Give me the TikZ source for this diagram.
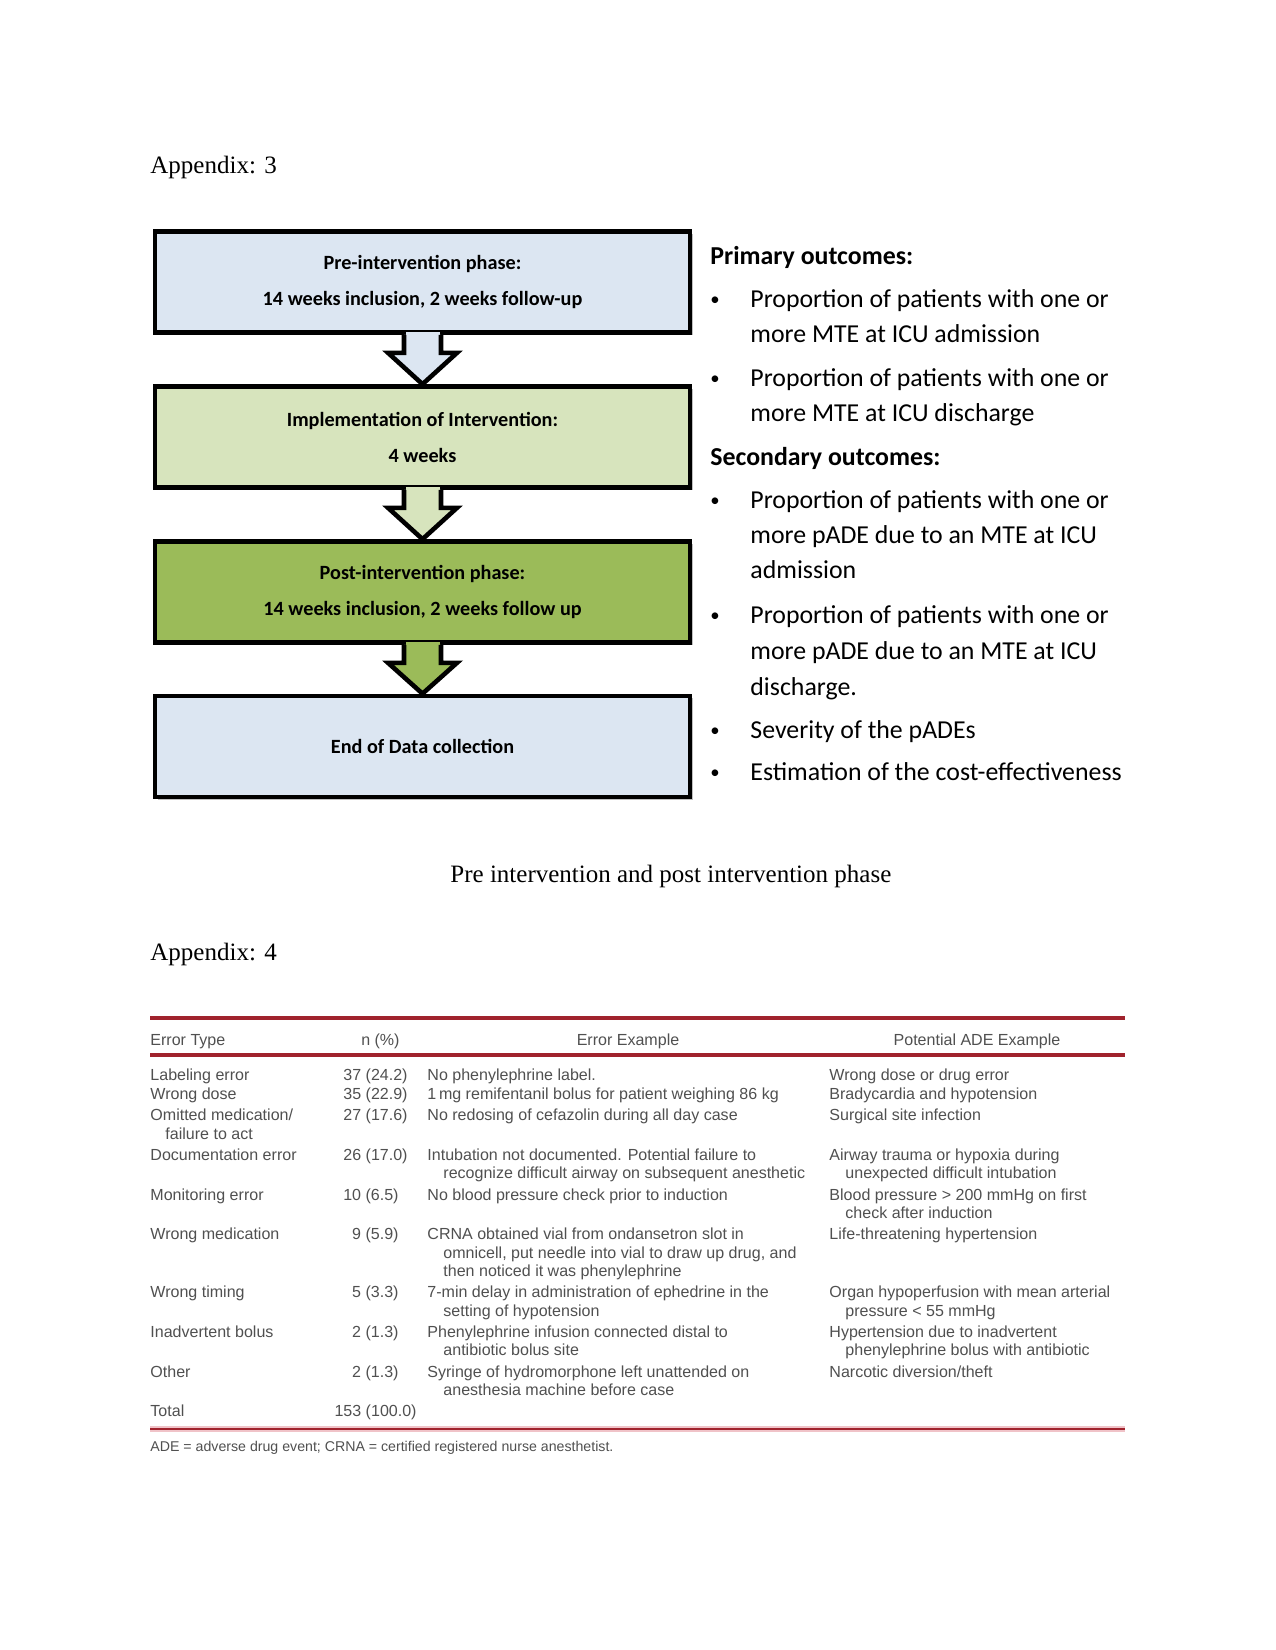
\documentclass[tikz,border=0pt]{standalone}
\usepackage{fontspec}
\setmainfont{Liberation Serif}
\newfontfamily\carlito{Carlito}
\newfontfamily\arialf{Liberation Sans}
\usetikzlibrary{calc,shadows}
\definecolor{boxblue}{RGB}{220,230,242}
\definecolor{boxlgreen}{RGB}{215,228,189}
\definecolor{boxgreen}{RGB}{155,187,89}
\definecolor{rulered}{RGB}{160,35,45}
\definecolor{rulepink}{RGB}{240,195,200}
\definecolor{tabgray}{RGB}{80,80,80}
\newcommand{\phasearrow}[3]{%
  \fill[#3] ($(#1.south)+(-17,-3)$) rectangle ($(#1.south)+(17,1)$);
  \draw[line width=2.2pt, line join=miter, fill=#3]
    ($(#1.south)+(-18.5,0)$) -- ($(#1.south)+(-18.5,18)$) -- ($(#1.south)+(-34.5,18)$)
    -- (#2.north) -- ($(#1.south)+(34.5,18)$) -- ($(#1.south)+(18.5,18)$) -- ($(#1.south)+(18.5,0)$);
}
\begin{document}
\begin{tikzpicture}[x=0.48pt,y=-0.48pt,
  phase/.style={draw=black, line width=2.2pt, minimum width=256.8pt, minimum height=48.5pt,
    align=center, inner sep=0pt, font=\carlito\bfseries\fontsize{9.7}{17.3}\selectfont,
    drop shadow={opacity=0.25, shadow xshift=1.2pt, shadow yshift=-1.2pt, fill=black}},
  outl/.style={anchor=base west, inner sep=0pt, font=\carlito\fontsize{12.4}{15}\selectfont},
  outh/.style={outl, font=\carlito\bfseries\fontsize{12.4}{15}\selectfont},
  bul/.style={anchor=base west, inner sep=0pt, font=\carlito\fontsize{9}{10}\selectfont},
  doc/.style={anchor=base west, inner sep=0pt, font=\fontsize{12}{14}\selectfont},
  tab/.style={anchor=base west, inner sep=0pt, font=\arialf\fontsize{7.7}{9}\selectfont, text=tabgray},
  tabr/.style={tab, anchor=base east},
  tabc/.style={tab, anchor=base},
  foot/.style={tab, font=\arialf\fontsize{6.8}{8}\selectfont}
]
\useasboundingbox (0,0) rectangle (1275,1650);
\fill[white] (0,0) rectangle (1275,1650);

\node[doc] (app3) at (150,174) {Appendix: 3};

% flow boxes
\node[phase, fill=boxblue] (b1) at (422.5,282) {Pre-intervention phase:\\14 weeks inclusion, 2 weeks follow-up};
\node[phase, fill=boxlgreen] (b2) at (422.5,437) {Implementation of Intervention:\\4 weeks};
\node[phase, fill=boxgreen] (b3) at (422.5,592) {Post-intervention phase:\\14 weeks inclusion, 2 weeks follow up};
\node[phase, fill=boxblue] (b4) at (422.5,746.5) {End of Data collection};

\phasearrow{b1}{b2}{boxblue}
\phasearrow{b2}{b3}{boxlgreen}
\phasearrow{b3}{b4}{boxgreen}

% outcomes
\node[outh] (hprim) at (710,265) {Primary outcomes:};
\node[bul] (u1) at (710,306) {•};
\node[outl] (t1a) at (750,308) {Proportion of patients with one or};
\node[outl] (t1b) at (750,343) {more MTE at ICU admission};
\node[bul] (u2) at (710,385) {•};
\node[outl] (t2a) at (750,387) {Proportion of patients with one or};
\node[outl] (t2b) at (750,422) {more MTE at ICU discharge};
\node[outh] (hsec) at (710,466) {Secondary outcomes:};
\node[bul] (u3) at (710,506) {•};
\node[outl] (t3a) at (750,508) {Proportion of patients with one or};
\node[outl] (t3b) at (750,543) {more pADE due to an MTE at ICU};
\node[outl] (t3c) at (750,578) {admission};
\node[bul] (u4) at (710,621) {•};
\node[outl] (t4a) at (750,623) {Proportion of patients with one or};
\node[outl] (t4b) at (750,659) {more pADE due to an MTE at ICU};
\node[outl] (t4c) at (750,695) {discharge.};
\node[bul] (u5) at (710,736) {•};
\node[outl] (t5) at (750,738) {Severity of the pADEs};
\node[bul] (u6) at (710,778) {•};
\node[outl] (t6) at (750,780) {Estimation of the cost-effectiveness};

\node[doc] (cap) at (450,882) {Pre intervention and post intervention phase};
\node[doc] (app4) at (150,960) {Appendix: 4};

% table rules
\draw[rulered, line width=1.6pt] (150,1018) -- (1125,1018);
\draw[rulered, line width=1.5pt] (150,1055) -- (1125,1055);
\draw[rulepink, line width=2.6pt] (150,1429) -- (1125,1429);
\draw[rulered, line width=0.9pt] (150,1429) -- (1125,1429);

% header
\node[tab] (hA) at (150,1045) {Error Type};
\node[tabr] (hB) at (400,1045) {n (\%)};
\node[tabc] (hC) at (628,1045) {Error Example};
\node[tabc] (hD) at (977,1045) {Potential ADE Example};

% rows
\node[tab] (a1) at (150,1080) {Labeling error};
\node[tabr] (n1) at (408,1080) {37 (24.2)};
\node[tab] (e1) at (427,1080) {No phenylephrine label.};
\node[tab] (p1) at (829,1080) {Wrong dose or drug error};

\node[tab] (a2) at (150,1099) {Wrong dose};
\node[tabr] (n2) at (408,1099) {35 (22.9)};
\node[tab] (e2) at (427,1099) {1\,mg remifentanil bolus for patient weighing 86 kg};
\node[tab] (p2) at (829,1099) {Bradycardia and hypotension};

\node[tab] (a3) at (150,1120) {Omitted medication/};
\node[tab] (a3b) at (165,1139) {failure to act};
\node[tabr] (n3) at (408,1120) {27 (17.6)};
\node[tab] (e3) at (427,1120) {No redosing of cefazolin during all day case};
\node[tab] (p3) at (829,1120) {Surgical site infection};

\node[tab] (a4) at (150,1160) {Documentation error};
\node[tabr] (n4) at (408,1160) {26 (17.0)};
\node[tab] (e4) at (427,1160) {Intubation not documented. Potential failure to};
\node[tab] (e4b) at (443,1178) {recognize difficult airway on subsequent anesthetic};
\node[tab] (p4) at (829,1160) {Airway trauma or hypoxia during};
\node[tab] (p4b) at (845,1178) {unexpected difficult intubation};

\node[tab] (a5) at (150,1200) {Monitoring error};
\node[tabr] (n5) at (399,1200) {10 (6.5)};
\node[tab] (e5) at (427,1200) {No blood pressure check prior to induction};
\node[tab] (p5) at (829,1200) {Blood pressure > 200 mmHg on first};
\node[tab] (p5b) at (845,1218) {check after induction};

\node[tab] (a6) at (150,1239) {Wrong medication};
\node[tabr] (n6) at (399,1239) {9 (5.9)};
\node[tab] (e6) at (427,1239) {CRNA obtained vial from ondansetron slot in};
\node[tab] (e6b) at (443,1258) {omnicell, put needle into vial to draw up drug, and};
\node[tab] (e6c) at (443,1276) {then noticed it was phenylephrine};
\node[tab] (p6) at (829,1239) {Life-threatening hypertension};

\node[tab] (a7) at (150,1297) {Wrong timing};
\node[tabr] (n7) at (399,1297) {5 (3.3)};
\node[tab] (e7) at (427,1297) {7-min delay in administration of ephedrine in the};
\node[tab] (e7b) at (443,1316) {setting of hypotension};
\node[tab] (p7) at (829,1297) {Organ hypoperfusion with mean arterial};
\node[tab] (p7b) at (845,1316) {pressure < 55 mmHg};

\node[tab] (a8) at (150,1337) {Inadvertent bolus};
\node[tabr] (n8) at (399,1337) {2 (1.3)};
\node[tab] (e8) at (427,1337) {Phenylephrine infusion connected distal to};
\node[tab] (e8b) at (443,1355) {antibiotic bolus site};
\node[tab] (p8) at (829,1337) {Hypertension due to inadvertent};
\node[tab] (p8b) at (845,1355) {phenylephrine bolus with antibiotic};

\node[tab] (a9) at (150,1377) {Other};
\node[tabr] (n9) at (399,1377) {2 (1.3)};
\node[tab] (e9) at (427,1377) {Syringe of hydromorphone left unattended on};
\node[tab] (e9b) at (443,1395) {anesthesia machine before case};
\node[tab] (p9) at (829,1377) {Narcotic diversion/theft};

\node[tab] (a10) at (150,1416) {Total};
\node[tabr] (n10) at (417,1416) {153 (100.0)};

\node[foot] (fn) at (150,1451) {ADE = adverse drug event; CRNA = certified registered nurse anesthetist.};
\end{tikzpicture}
\end{document}
